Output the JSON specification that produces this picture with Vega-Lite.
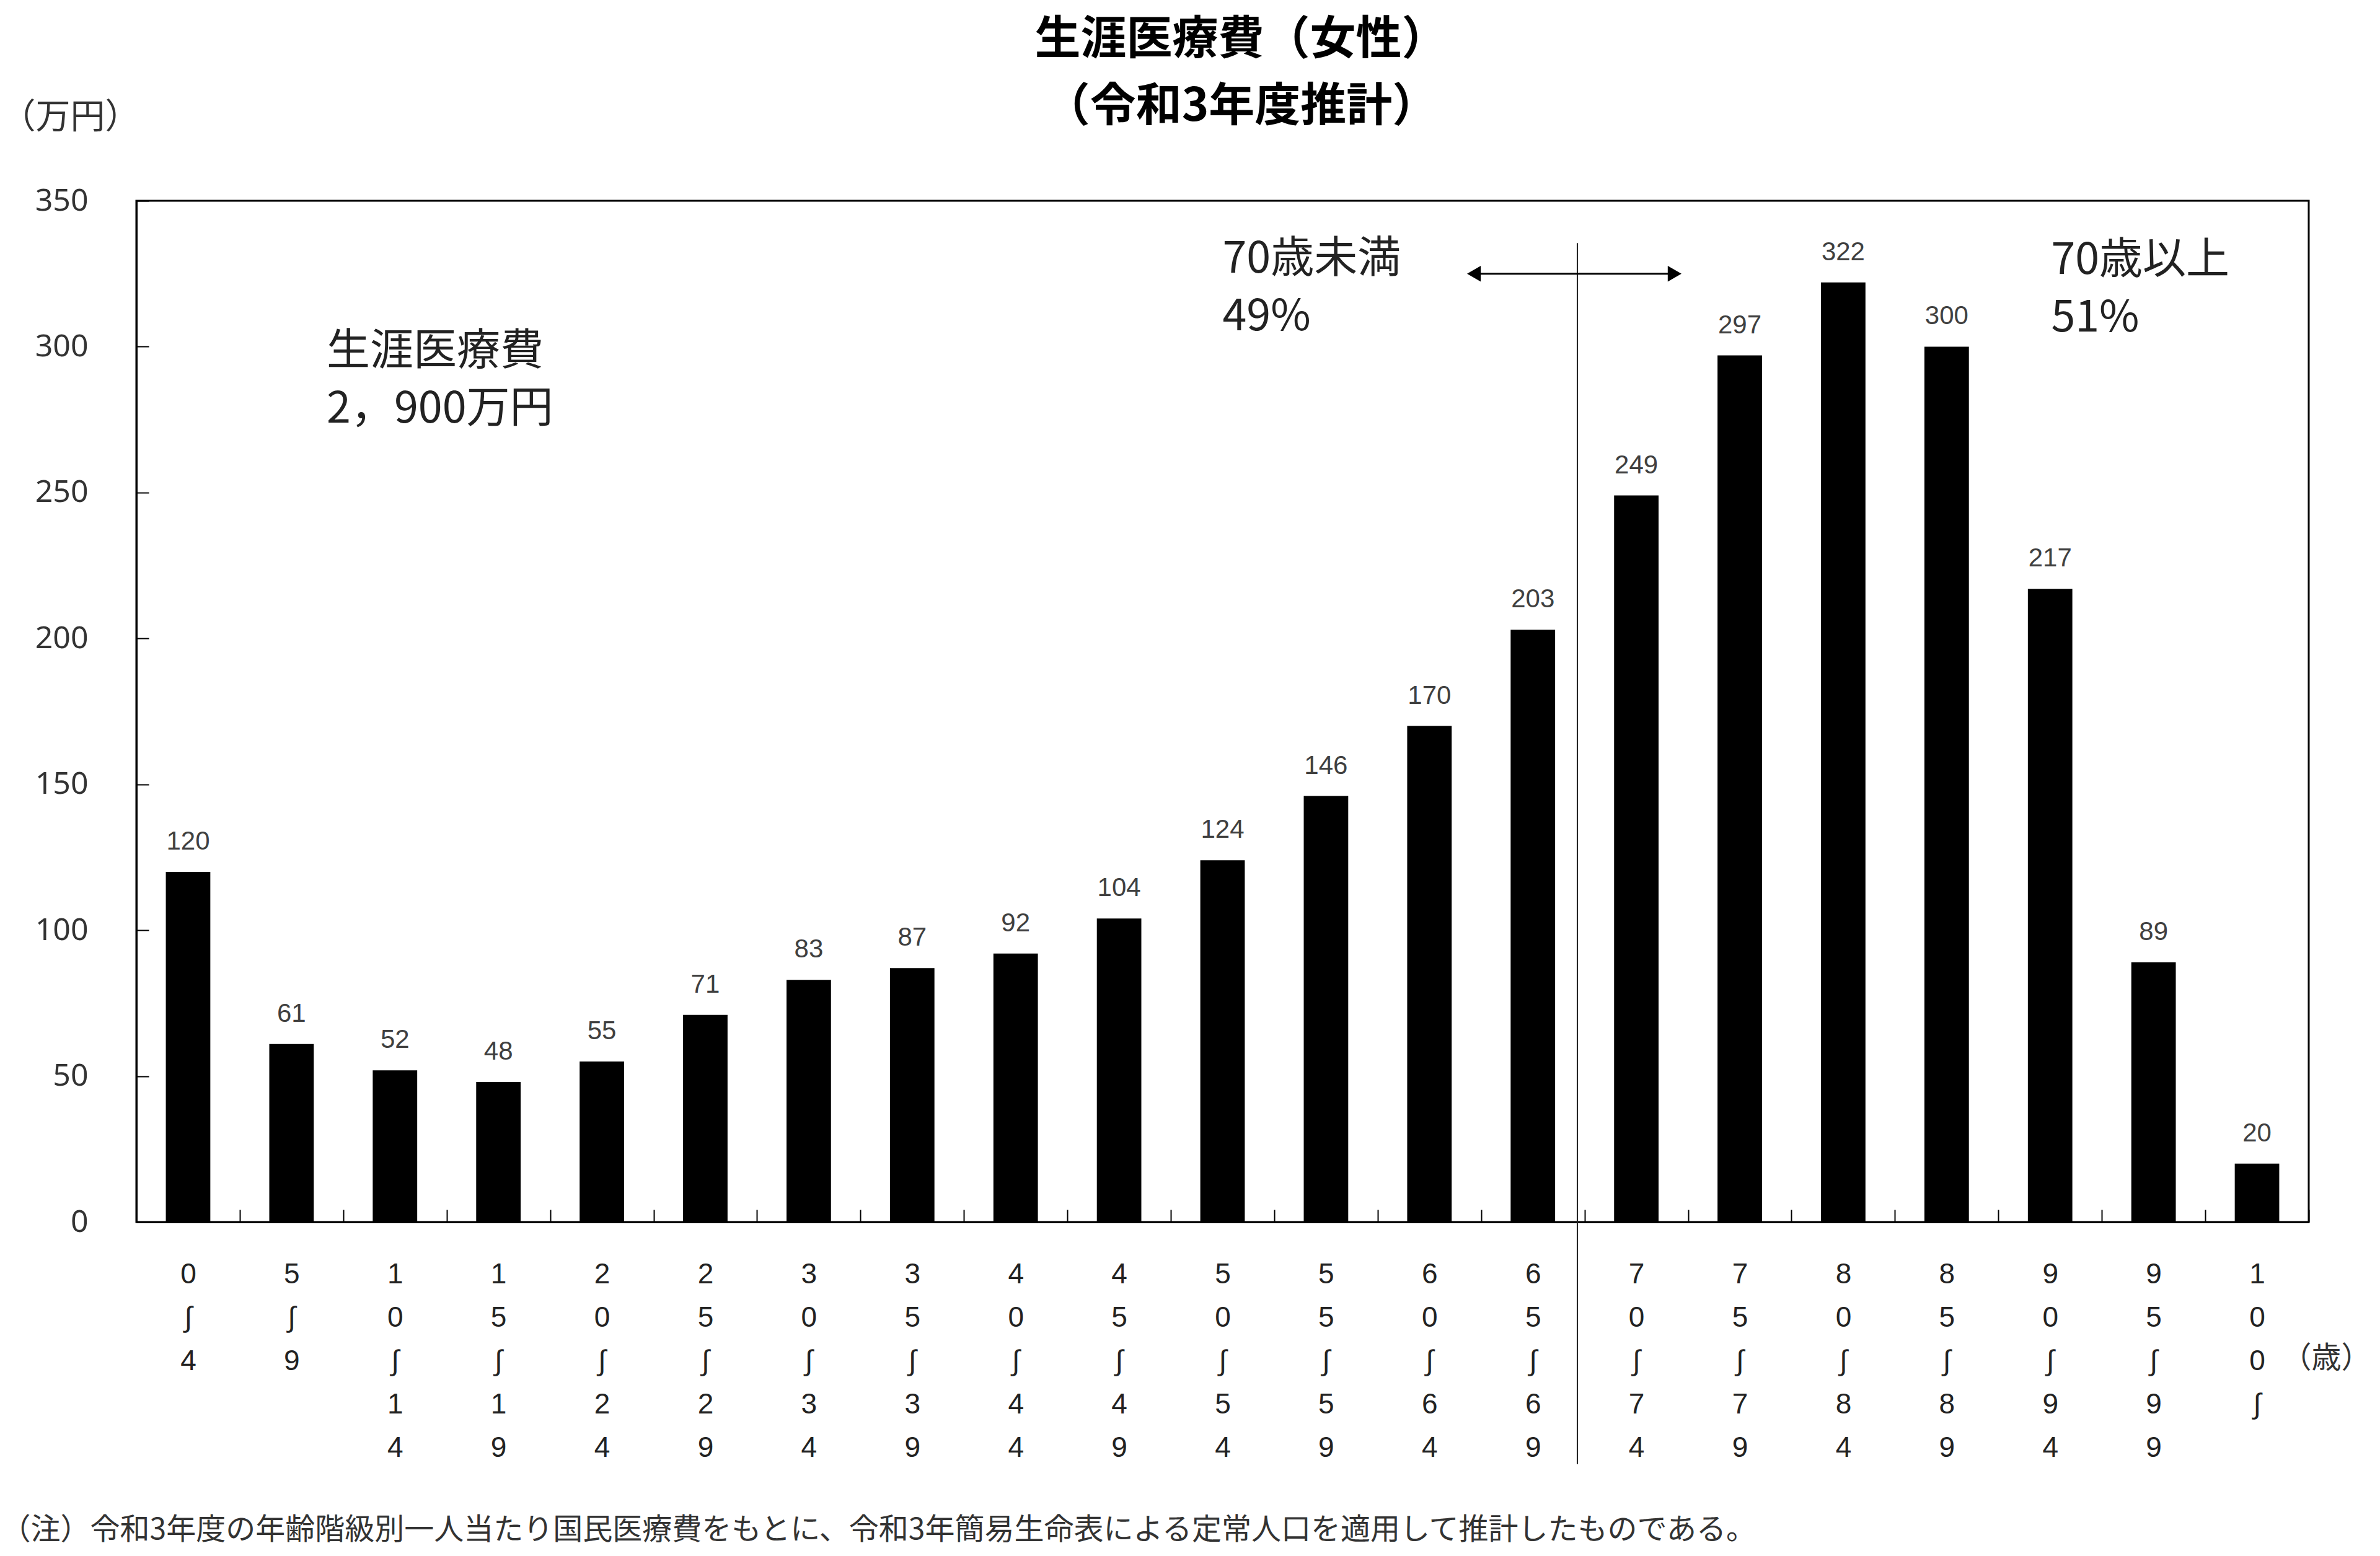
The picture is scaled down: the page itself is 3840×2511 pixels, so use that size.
{
  "$schema": "https://vega.github.io/schema/vega-lite/v6.json",
  "width": 3505,
  "height": 1648,
  "autosize": {"type": "none"},
  "padding": {"left": 220, "top": 324, "right": 115, "bottom": 539},
  "background": "white",
  "title": {
    "text": ["生涯医療費（女性）", "（令和3年度推計）"],
    "font": "Noto Sans CJK JP",
    "fontSize": 74,
    "fontWeight": "bold",
    "lineHeight": 108,
    "anchor": "middle",
    "color": "black",
    "offset": 120,
    "dy": 170,
    "dx": 30
  },
  "data": {
    "values": [
      {"age": "0～4", "value": 120},
      {"age": "5～9", "value": 61},
      {"age": "10～14", "value": 52},
      {"age": "15～19", "value": 48},
      {"age": "20～24", "value": 55},
      {"age": "25～29", "value": 71},
      {"age": "30～34", "value": 83},
      {"age": "35～39", "value": 87},
      {"age": "40～44", "value": 92},
      {"age": "45～49", "value": 104},
      {"age": "50～54", "value": 124},
      {"age": "55～59", "value": 146},
      {"age": "60～64", "value": 170},
      {"age": "65～69", "value": 203},
      {"age": "70～74", "value": 249},
      {"age": "75～79", "value": 297},
      {"age": "80～84", "value": 322},
      {"age": "85～89", "value": 300},
      {"age": "90～94", "value": 217},
      {"age": "95～99", "value": 89},
      {"age": "100～", "value": 20}
    ]
  },
  "layer": [
    {
      "mark": {"type": "bar", "color": "black", "width": {"band": 0.43}},
      "encoding": {
        "x": {
          "field": "age",
          "type": "nominal",
          "sort": null,
          "scale": {
            "type": "band",
            "paddingInner": 0,
            "paddingOuter": 0,
            "domain": ["0～4", "5～9", "10～14", "15～19", "20～24", "25～29", "30～34", "35～39", "40～44", "45～49", "50～54", "55～59", "60～64", "65～69", "70～74", "75～79", "80～84", "85～89", "90～94", "95～99", "100～"]
          },
          "axis": {
            "title": "（注）令和3年度の年齢階級別一人当たり国民医療費をもとに、令和3年簡易生命表による定常人口を適用して推計したものである。",
            "titleFont": "Noto Sans CJK JP",
            "titleFontSize": 48,
            "titleFontWeight": "normal",
            "titleColor": "#333333",
            "titleAlign": "left",
            "titleBaseline": "middle",
            "titleAngle": 0,
            "titleX": -219,
            "titleY": 497,
            "labelAngle": 0,
            "labelExpr": "isValid(datum.value) ? split(replace(datum.value, '～', '∫'), '') : ''",
            "labelFont": "Liberation Sans",
            "labelFontSize": 46,
            "labelLineHeight": 70,
            "labelColor": "#222222",
            "labelBaseline": "top",
            "labelPadding": 82,
            "tickBand": "extent",
            "tickSize": -20,
            "tickColor": "black",
            "tickWidth": 2,
            "domainColor": "black",
            "domainWidth": 3,
            "grid": false
          }
        },
        "y": {
          "field": "value",
          "type": "quantitative",
          "scale": {"domain": [0, 350], "nice": false},
          "axis": {
            "values": [0, 50, 100, 150, 200, 250, 300, 350],
            "title": "（万円）",
            "titleFont": "Noto Sans CJK JP",
            "titleFontSize": 56,
            "titleFontWeight": "normal",
            "titleColor": "#333333",
            "titleAngle": 0,
            "titleAlign": "left",
            "titleBaseline": "middle",
            "titleX": -219,
            "titleY": -135,
            "labelFont": "Noto Sans",
            "labelFontSize": 50,
            "labelColor": "#333333",
            "labelPadding": 98,
            "tickSize": -20,
            "tickColor": "black",
            "tickWidth": 2,
            "domainColor": "black",
            "domainWidth": 3,
            "grid": false
          }
        }
      }
    },
    {
      "mark": {
        "type": "text",
        "font": "Liberation Sans Narrow, Liberation Sans",
        "fontSize": 42,
        "color": "#404040",
        "baseline": "alphabetic",
        "dy": -36
      },
      "encoding": {
        "x": {"field": "age", "type": "nominal", "sort": null},
        "y": {"field": "value", "type": "quantitative"},
        "text": {"field": "value", "type": "quantitative"}
      }
    },
    {
      "data": {"values": [{}]},
      "mark": {"type": "rule", "color": "#222222", "strokeWidth": 2},
      "encoding": {
        "x": {"datum": "65～69", "bandPosition": 0.93},
        "y": {"datum": 335.5},
        "y2": {"datum": -83}
      }
    },
    {
      "data": {"values": [{}]},
      "mark": {"type": "rule", "color": "black", "strokeWidth": 3},
      "encoding": {
        "x": {"datum": "60～64", "bandPosition": 0.92},
        "x2": {"datum": "70～74", "bandPosition": 0.88},
        "y": {"datum": 325}
      }
    },
    {
      "data": {"values": [{}]},
      "mark": {"type": "point", "shape": "triangle-left", "filled": true, "color": "black", "size": 650, "opacity": 1},
      "encoding": {
        "x": {"datum": "60～64", "bandPosition": 0.93},
        "y": {"datum": 325}
      }
    },
    {
      "data": {"values": [{}]},
      "mark": {"type": "point", "shape": "triangle-right", "filled": true, "color": "black", "size": 650, "opacity": 1},
      "encoding": {
        "x": {"datum": "70～74", "bandPosition": 0.87},
        "y": {"datum": 325}
      }
    },
    {
      "data": {"values": [{}]},
      "mark": {
        "type": "text",
        "text": ["生涯医療費", "2，900万円"],
        "font": "Noto Sans CJK JP",
        "fontSize": 70,
        "lineHeight": 93,
        "align": "left",
        "baseline": "middle",
        "color": "#222222"
      },
      "encoding": {
        "x": {"datum": "5～9", "bandPosition": 0.84},
        "y": {"datum": 298.2}
      }
    },
    {
      "data": {"values": [{}]},
      "mark": {
        "type": "text",
        "text": ["70歳未満", "49%"],
        "font": "Noto Sans CJK JP",
        "fontSize": 70,
        "lineHeight": 93,
        "align": "left",
        "baseline": "middle",
        "color": "#222222"
      },
      "encoding": {
        "x": {"datum": "50～54", "bandPosition": 0.5},
        "y": {"datum": 329.8}
      }
    },
    {
      "data": {"values": [{}]},
      "mark": {
        "type": "text",
        "text": ["70歳以上", "51%"],
        "font": "Noto Sans CJK JP",
        "fontSize": 70,
        "lineHeight": 93,
        "align": "left",
        "baseline": "middle",
        "color": "#222222"
      },
      "encoding": {
        "x": {"datum": "90～94", "bandPosition": 0.51},
        "y": {"datum": 329.4}
      }
    },
    {
      "data": {"values": [{}]},
      "mark": {
        "type": "text",
        "text": "（歳）",
        "font": "Noto Sans CJK JP",
        "fontSize": 48,
        "align": "left",
        "baseline": "middle",
        "color": "#333333"
      },
      "encoding": {
        "x": {"datum": "100～", "bandPosition": 0.74},
        "y": {"datum": -47}
      }
    }
  ],
  "config": {
    "view": {"stroke": "black", "strokeWidth": 3},
    "axis": {"grid": false}
  }
}
